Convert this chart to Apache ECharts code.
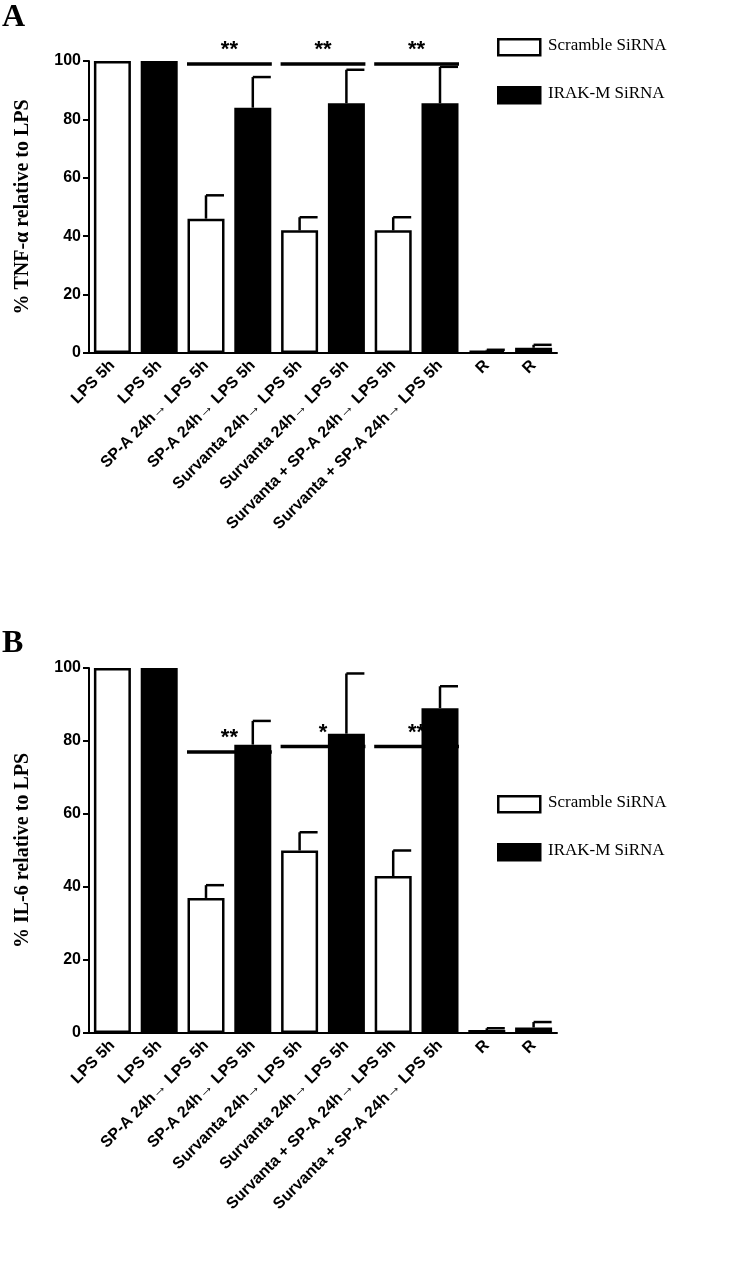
<!DOCTYPE html>
<html><head><meta charset="utf-8">
<script src="https://cdn.jsdelivr.net/npm/echarts@6/dist/echarts.min.js"></script>
<style>html,body{margin:0;background:#fff}#c{width:733px;height:1280px}</style>
</head><body><div id="c"></div>
<script>
const categories = ["LPS 5h", "LPS 5h", "SP-A 24h\u2192 LPS 5h", "SP-A 24h\u2192 LPS 5h",
  "Survanta 24h\u2192 LPS 5h", "Survanta 24h\u2192 LPS 5h",
  "Survanta + SP-A 24h\u2192 LPS 5h", "Survanta + SP-A 24h\u2192 LPS 5h", "R", "R"];
// even index = Scramble, odd = IRAK-M
const tnfValues = [100, 100, 46, 84, 42, 85.5, 42, 85.5, 0.8, 1.8];
const tnfErrors = [0, 0, 8, 10.5, 4.5, 11.5, 4.5, 12.5, 0.3, 1];
const il6Values = [100, 100, 37, 79, 50, 82, 43, 89, 0.8, 1.5];
const il6Errors = [0, 0, 3.5, 6.5, 5, 16.5, 7, 6, 0.5, 1.5];
const tnfSig = [[2, 3, 99, "**"], [4, 5, 99, "**"], [6, 7, 99, "**"]];
const il6Sig = [[2, 3, 77, "**"], [4, 5, 78.5, "*"], [6, 7, 78.5, "**"]];

const labelFont = { fontFamily: "Liberation Sans", fontWeight: "bold", fontSize: 16, color: "#000" };

function split(vals, parity) {
  return vals.map((v, i) => (i % 2 === parity ? v : "-"));
}

function axes(idx, title) {
  return {
    x: {
      type: "category", gridIndex: idx, data: categories,
      axisLine: { lineStyle: { color: "#000", width: 2 } },
      axisTick: { alignWithLabel: true, length: 6, lineStyle: { color: "#000", width: 2 } },
      axisLabel: Object.assign({ rotate: 45, interval: 0, margin: 10 }, labelFont),
    },
    y: {
      type: "value", gridIndex: idx, min: 0, max: 100, interval: 20,
      name: title, nameLocation: "middle", nameGap: 56,
      nameTextStyle: { fontFamily: "Liberation Serif", fontWeight: "bold", fontSize: 20, color: "#000" },
      splitLine: { show: false },
      axisLine: { show: true, lineStyle: { color: "#000", width: 2 } },
      axisTick: { show: true, length: 6, lineStyle: { color: "#000", width: 2 } },
      axisLabel: labelFont,
    },
  };
}

function barSeries(idx, vals) {
  const base = { type: "bar", xAxisIndex: idx, yAxisIndex: idx, barWidth: 37, barGap: "-100%", z: 3 };
  return [
    Object.assign({}, base, { name: "Scramble SiRNA", data: split(vals, 0),
      itemStyle: { color: "#fff", borderColor: "#000", borderWidth: 2.5 } }),
    Object.assign({}, base, { name: "IRAK-M SiRNA", data: split(vals, 1),
      itemStyle: { color: "#000", borderColor: "#000", borderWidth: 2.5 } }),
  ];
}

function errorSeries(idx, vals, errs) {
  return {
    type: "custom", xAxisIndex: idx, yAxisIndex: idx, z: 1,
    data: vals.map((v, i) => [i, v, v + errs[i]]),
    renderItem: function (params, api) {
      if (api.value(2) - api.value(1) <= 0) return;
      const lo = api.coord([api.value(0), api.value(1)]);
      const hi = api.coord([api.value(0), api.value(2)]);
      const st = { stroke: "#000", lineWidth: 2.5 };
      return { type: "group", children: [
        { type: "line", shape: { x1: lo[0], y1: lo[1], x2: hi[0], y2: hi[1] }, style: st },
        { type: "line", shape: { x1: hi[0], y1: hi[1], x2: hi[0] + 18, y2: hi[1] }, style: st },
      ] };
    },
  };
}

function sigSeries(idx, sig) {
  return {
    type: "custom", xAxisIndex: idx, yAxisIndex: idx, z: 1,
    data: sig.map(s => [s[0], s[1], s[2]]),
    renderItem: function (params, api) {
      const a = api.coord([api.value(0), api.value(2)]);
      const b = api.coord([api.value(1), api.value(2)]);
      const x1 = a[0] - 19, x2 = b[0] + 19;
      return { type: "group", children: [
        { type: "line", shape: { x1: x1, y1: a[1], x2: x2, y2: a[1] }, style: { stroke: "#000", lineWidth: 3.5 } },
        { type: "text", x: (x1 + x2) / 2, y: a[1] - 3,
          style: { text: sig[params.dataIndex][3], textAlign: "center", textVerticalAlign: "bottom",
            fontFamily: "Liberation Sans", fontWeight: "bold", fontSize: 22, fill: "#000" } },
      ] };
    },
  };
}

function legend(top) {
  const t = { fontFamily: "Liberation Serif", fontSize: 17, fill: "#000" };
  return [
    { type: "rect", left: 497, top: top, shape: { width: 42, height: 16 }, style: { fill: "#fff", stroke: "#000", lineWidth: 2.5 } },
    { type: "text", left: 548, top: top - 1, style: Object.assign({ text: "Scramble SiRNA" }, t) },
    { type: "rect", left: 497, top: top + 48, shape: { width: 42, height: 16 }, style: { fill: "#000", stroke: "#000", lineWidth: 2.5 } },
    { type: "text", left: 548, top: top + 47, style: Object.assign({ text: "IRAK-M SiRNA" }, t) },
  ];
}

const aA = axes(0, "% TNF-\u03b1 relative to LPS");
const aB = axes(1, "% IL-6 relative to LPS");
const panelFont = { fontFamily: "Liberation Serif", fontWeight: "bold", fontSize: 32, fill: "#000" };

const chart = echarts.init(document.getElementById("c"));
chart.setOption({
  animation: false,
  grid: [
    { left: 89, top: 61, width: 468, height: 292 },
    { left: 89, top: 668, width: 468, height: 365 },
  ],
  xAxis: [aA.x, aB.x],
  yAxis: [aA.y, aB.y],
  graphic: [
    { type: "text", left: 2, top: 2, style: Object.assign({ text: "A" }, panelFont) },
    { type: "text", left: 2, top: 628, style: Object.assign({ text: "B" }, panelFont) },
  ].concat(legend(38), legend(795)),
  series: [].concat(
    barSeries(0, tnfValues), errorSeries(0, tnfValues, tnfErrors), sigSeries(0, tnfSig),
    barSeries(1, il6Values), errorSeries(1, il6Values, il6Errors), sigSeries(1, il6Sig)
  ),
});
</script>
</body></html>
